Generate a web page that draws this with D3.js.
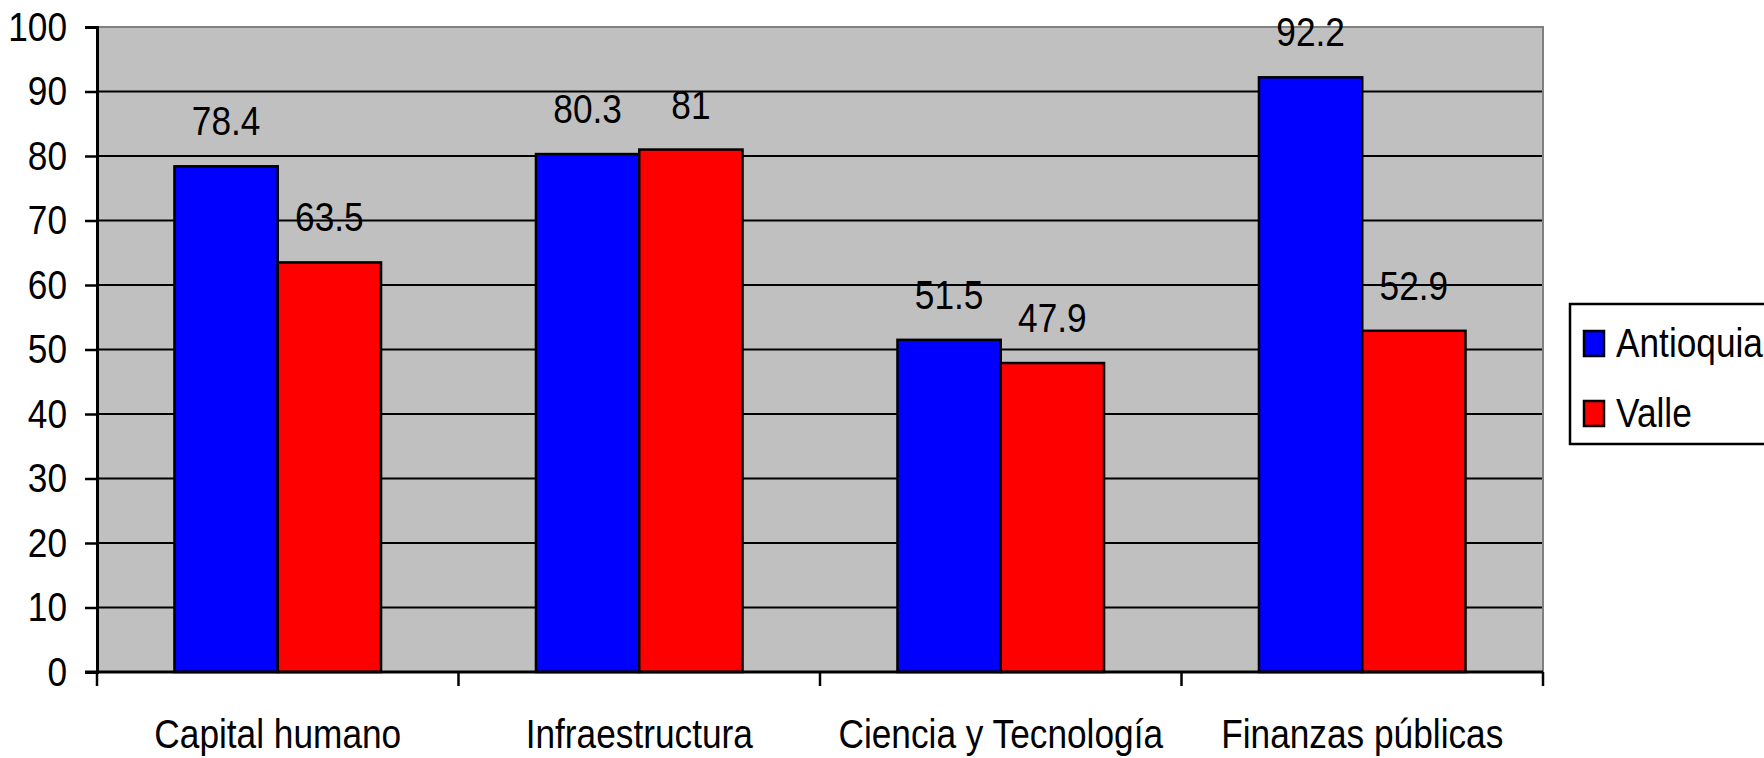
<!DOCTYPE html>
<html>
<head>
<meta charset="utf-8">
<script src="https://cdn.jsdelivr.net/npm/d3@7"></script>
<style>
  body { margin: 0; background: #fff; }
  text { font-family: "Liberation Sans", Arial, sans-serif; fill: #000; }
</style>
</head>
<body>
<div id="chart"></div>
<script>
var categories = ["Capital humano", "Infraestructura", "Ciencia y Tecnología", "Finanzas públicas"];
var seriesNames = ["Antioquia", "Valle"];
var seriesColors = ["#0000ff", "#ff0000"];
var antioquia = [78.4, 80.3, 51.5, 92.2];
var valle = [63.5, 81, 47.9, 52.9];
var yTicks = [0, 10, 20, 30, 40, 50, 60, 70, 80, 90, 100];

var width = 1764, height = 758;
var margin = { left: 97, right: 221, top: 27, bottom: 86 };
var fontSize = 41;
var squeezeX = 0.86; // the original lettering is narrow

var svg = d3.select("#chart").append("svg")
    .attr("width", width)
    .attr("height", height);

// move x/y into a transform so the text can be squeezed sideways
function squeeze(sel) {
  sel.each(function () {
    var t = d3.select(this);
    var tx = +t.attr("x") || 0, ty = +t.attr("y") || 0;
    t.attr("x", 0).attr("y", 0)
     .attr("font-size", fontSize)
     .attr("font-family", "'Liberation Sans', Arial, sans-serif")
     .attr("fill", "#000")
     .attr("transform", "translate(" + tx + "," + ty + ") scale(" + squeezeX + ",1)");
  });
}

var x0 = d3.scaleBand()
    .domain(categories)
    .range([margin.left, width - margin.right])
    .padding(0);

var x1 = d3.scaleBand()
    .domain(seriesNames)
    .range([0, x0.bandwidth()])
    .paddingInner(0)
    .paddingOuter(0.75);

var y = d3.scaleLinear()
    .domain([0, 100])
    .range([height - margin.bottom, margin.top]);

// plot area
svg.append("rect")
    .attr("x", margin.left)
    .attr("y", margin.top)
    .attr("width", width - margin.left - margin.right)
    .attr("height", height - margin.top - margin.bottom)
    .attr("fill", "#c0c0c0");

// grid lines
svg.append("g")
  .selectAll("line")
  .data(yTicks.filter(function (d) { return d > 0 && d < 100; }))
  .enter().append("line")
    .attr("x1", margin.left)
    .attr("x2", width - margin.right)
    .attr("y1", function (d) { return y(d); })
    .attr("y2", function (d) { return y(d); })
    .attr("stroke", "#000")
    .attr("stroke-width", 2);

// top and right border
svg.append("path")
    .attr("d", "M" + margin.left + "," + y(100) + "H" + (width - margin.right) + "V" + y(0))
    .attr("fill", "none")
    .attr("stroke", "#808080")
    .attr("stroke-width", 2);

var data = categories.map(function (c, i) {
  return { cat: c, vals: [antioquia[i], valle[i]] };
});

var groups = svg.append("g").selectAll("g")
  .data(data)
  .enter().append("g")
    .attr("transform", function (d) { return "translate(" + x0(d.cat) + ",0)"; });

groups.selectAll("rect")
  .data(function (d) { return d.vals.map(function (v, j) { return { s: seriesNames[j], v: v, j: j }; }); })
  .enter().append("rect")
    .attr("x", function (d) { return x1(d.s); })
    .attr("y", function (d) { return y(d.v); })
    .attr("width", x1.bandwidth())
    .attr("height", function (d) { return y(0) - y(d.v); })
    .attr("fill", function (d) { return seriesColors[d.j]; })
    .attr("stroke", "#000")
    .attr("stroke-width", 2.5);

groups.selectAll("text")
  .data(function (d) { return d.vals.map(function (v, j) { return { s: seriesNames[j], v: v }; }); })
  .enter().append("text")
    .attr("x", function (d) { return x1(d.s) + x1.bandwidth() / 2; })
    .attr("y", function (d) { return y(d.v) - 31; })
    .attr("text-anchor", "middle")
    .text(function (d) { return d.v; })
    .call(squeeze);

// y axis
var yAxis = d3.axisLeft(y)
    .tickValues(yTicks)
    .tickSize(12)
    .tickPadding(18);

svg.append("g")
    .attr("transform", "translate(" + margin.left + ",0)")
    .call(yAxis)
    .call(function (g) {
      g.select(".domain").attr("stroke", "#000").attr("stroke-width", 3);
      g.selectAll(".tick line").attr("stroke", "#000").attr("stroke-width", 2.5);
      g.selectAll(".tick text").call(squeeze);
    });

// x axis
var xAxis = d3.axisBottom(x0)
    .tickSize(0)
    .tickPadding(47);

svg.append("g")
    .attr("transform", "translate(0," + y(0) + ")")
    .call(xAxis)
    .call(function (g) {
      g.select(".domain").remove();
      g.selectAll(".tick text").call(squeeze);
    });

svg.append("line")
    .attr("x1", margin.left - 12)
    .attr("x2", width - margin.right)
    .attr("y1", y(0))
    .attr("y2", y(0))
    .attr("stroke", "#000")
    .attr("stroke-width", 3);

// category separators
var sepX = categories.map(function (c) { return x0(c); }).concat([width - margin.right]);
svg.append("g").selectAll("line")
  .data(sepX)
  .enter().append("line")
    .attr("x1", function (d) { return d; })
    .attr("x2", function (d) { return d; })
    .attr("y1", y(0))
    .attr("y2", y(0) + 14)
    .attr("stroke", "#000")
    .attr("stroke-width", 2.5);

// legend
var legend = svg.append("g").attr("transform", "translate(1570,304)");
legend.append("rect")
    .attr("x", 0)
    .attr("y", 0)
    .attr("width", 220)
    .attr("height", 140)
    .attr("fill", "#fff")
    .attr("stroke", "#000")
    .attr("stroke-width", 2.5);

var items = legend.selectAll("g.item")
  .data(seriesNames)
  .enter().append("g")
    .attr("class", "item")
    .attr("transform", function (d, i) { return "translate(0," + (i * 70) + ")"; });

items.append("rect")
    .attr("x", 14)
    .attr("y", 27)
    .attr("width", 20)
    .attr("height", 25)
    .attr("fill", function (d, i) { return seriesColors[i]; })
    .attr("stroke", "#000")
    .attr("stroke-width", 2.5);

items.append("text")
    .attr("x", 46)
    .attr("y", 53)
    .text(function (d) { return d; })
    .call(squeeze);
</script>
</body>
</html>
